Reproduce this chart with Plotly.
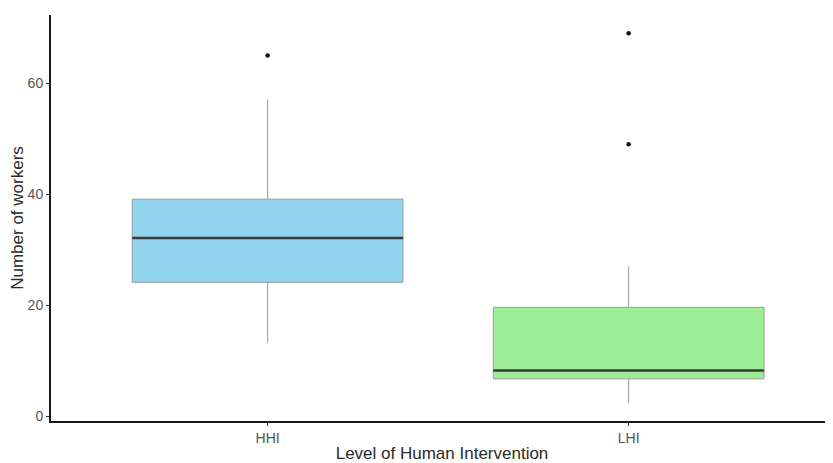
import plotly.graph_objects as go

categories = ["HHI", "LHI"]
lower_whisker = [13.2, 2.3]
q1 = [24.1, 6.7]
median = [32.1, 8.2]
q3 = [39.1, 19.6]
upper_whisker = [57.1, 27.0]
outliers = {"HHI": [65.0], "LHI": [69.0, 49.0]}
fills = ["#92D3EE", "#9BEE96"]
y_ticks = [0, 20, 40, 60]

BOX_W = 0.75
fig = go.Figure()
for i, cat in enumerate(categories):
    fig.add_trace(go.Box(
        x=[i], q1=[q1[i]], median=[median[i]], q3=[q3[i]],
        lowerfence=[lower_whisker[i]], upperfence=[upper_whisker[i]],
        width=BOX_W, fillcolor=fills[i],
        line=dict(color="#9a9a9a", width=1), whiskerwidth=0,
        boxpoints=False, showlegend=False, hoverinfo="skip",
    ))
    fig.add_trace(go.Scatter(
        x=[i - BOX_W / 2, i + BOX_W / 2], y=[median[i], median[i]],
        mode="lines", line=dict(color="#3a3a3a", width=2.5),
        showlegend=False, hoverinfo="skip",
    ))
    fig.add_trace(go.Scatter(
        x=[i] * len(outliers[cat]), y=outliers[cat], mode="markers",
        marker=dict(color="#111111", size=4.5), showlegend=False, hoverinfo="skip",
    ))

# page body has an 8px default margin, so the figure is offset by (8, 8)
fig.update_layout(
    width=825, height=455,
    margin=dict(l=43, r=0, t=7, b=42),
    paper_bgcolor="white", plot_bgcolor="white",
    font=dict(family="Liberation Sans, Arial, sans-serif", size=14, color="#555555"),
)
fig.update_xaxes(
    range=[-0.6, 1.566], tickvals=[0, 1], ticktext=categories,
    showline=True, linecolor="#1a1a1a", linewidth=2, mirror=False,
    ticks="outside", ticklen=3, tickcolor="#333333", tickwidth=1,
    showgrid=False, zeroline=False,
    tickfont=dict(size=14, color="#555555"),
    title=dict(text="Level of Human Intervention", font=dict(size=17, color="#2a2a2a"), standoff=4),
)
fig.update_yaxes(
    range=[-0.9, 72.3], tickvals=y_ticks,
    showline=True, linecolor="#1a1a1a", linewidth=2,
    ticks="outside", ticklen=3, tickcolor="#333333", tickwidth=1,
    showgrid=False, zeroline=False,
    tickfont=dict(size=14, color="#555555"),
    title=dict(text="Number of workers", font=dict(size=17, color="#2a2a2a"), standoff=4),
)

fig.write_html("out.html")
